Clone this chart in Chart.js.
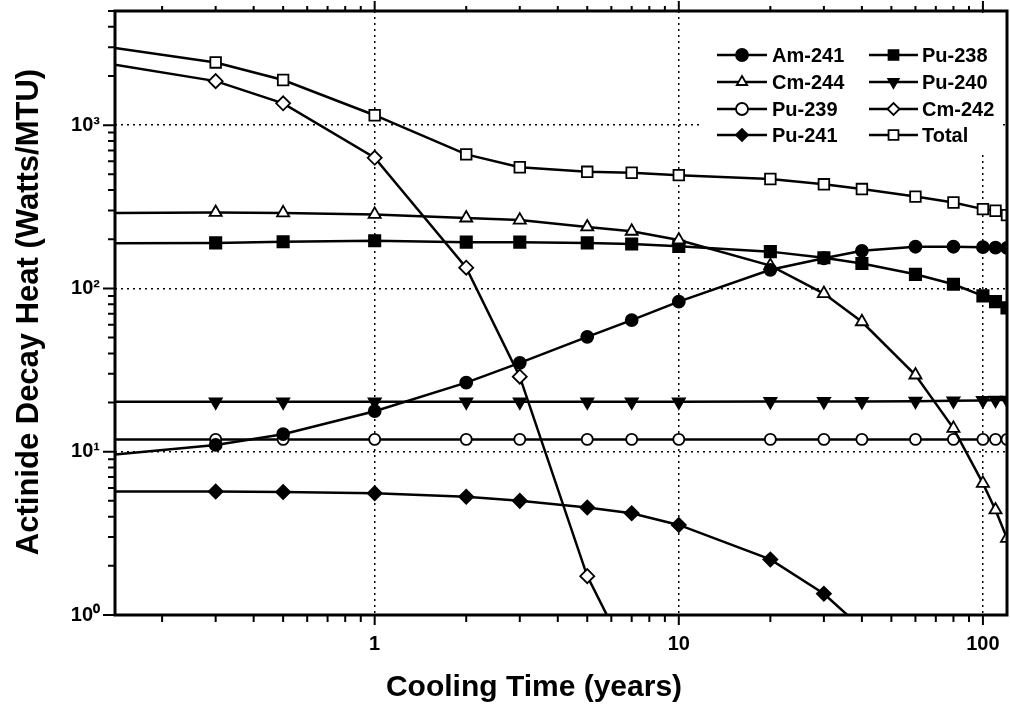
<!DOCTYPE html>
<html>
<head>
<meta charset="utf-8">
<script src="https://cdn.jsdelivr.net/npm/chart.js@4/dist/chart.umd.min.js"></script>
<style>
   html, body { margin: 0; padding: 0; background: #fff; }
   #graphique { display: block; }
</style>
</head>
<body>
<canvas id="graphique" width="1010" height="720"></canvas>
<script>
// Temps de refroidissement (années) - le premier point est le bord gauche du graphique
const annees = [0.14, 0.3, 0.5, 1, 2, 3, 5, 7, 10, 20, 30, 40, 60, 80, 100, 110, 120];

// Puissance résiduelle (Watts/MTU)
const am241 = [9.6, 11.0, 12.8, 17.7, 26.5, 35, 50.5, 64, 83, 130, 153, 170, 180, 180, 179, 178, 177];
const cm244 = [290, 292, 290, 284, 270, 262, 238, 224, 198, 138, 93, 62.5, 29.5, 13.9, 6.4, 4.4, 2.95];
const pu239 = [11.9, 11.9, 11.9, 11.9, 11.9, 11.9, 11.9, 11.9, 11.9, 11.9, 11.9, 11.9, 11.9, 11.9, 11.9, 11.9, 11.9];
const pu241 = [5.7, 5.7, 5.66, 5.56, 5.3, 5.0, 4.55, 4.2, 3.56, 2.19, 1.35, 0.83, null, null, null, null, null];
const pu238 = [189, 190, 193, 196, 192, 192, 190, 187, 181, 168, 154, 142, 122, 106, 90, 83, 76];
const pu240 = [20.2, 20.2, 20.2, 20.2, 20.2, 20.2, 20.2, 20.2, 20.2, 20.3, 20.3, 20.3, 20.4, 20.5, 20.6, 20.7, 20.7];
const cm242 = [2340, 1860, 1360, 631, 134, 28.8, 1.73, 0.5, null, null, null, null, null, null, null, null, null];
const total = [2970, 2420, 1890, 1150, 662, 552, 518, 511, 494, 468, 434, 406, 365, 336, 306, 299, 281];

// Graduations
const xTicks = [0.2, 0.3, 0.4, 0.5, 0.6, 0.7, 0.8, 0.9, 1, 2, 3, 4, 5, 6, 7, 8, 9, 10,
   20, 30, 40, 50, 60, 70, 80, 90, 100];
const yTicks = [1, 2, 3, 4, 5, 6, 7, 8, 9, 10, 20, 30, 40, 50, 60, 70, 80, 90,
   100, 200, 300, 400, 500, 600, 700, 800, 900, 1000, 2000, 3000, 4000, 5000];
const exposants = ['\u2070', '\u00b9', '\u00b2', '\u00b3'];

const POLICE = "'Liberation Sans', Arial, Helvetica, sans-serif";

function estMajeur(v) {
   const l = Math.log10(v);
   return Math.abs(l - Math.round(l)) < 1e-9;
}

function serie(label, valeurs, style, rempli, rayon, rotation) {
   return {
      label: label,
      data: annees.map((t, i) => ({ x: t, y: valeurs[i] })),
      borderColor: '#000',
      borderWidth: 2.5,
      backgroundColor: rempli ? '#000' : '#fff',
      pointBackgroundColor: rempli ? '#000' : '#fff',
      pointBorderColor: '#000',
      pointBorderWidth: 1.8,
      pointStyle: style,
      pointRotation: rotation || 0,
      pointRadius: ctx => ctx.dataIndex === 0 ? 0 : rayon, // pas de marqueur au bord gauche
      tension: 0,
      fill: false,
      spanGaps: false
   };
}

// pas de marge ajoutée par les étiquettes : la zone du graphique reste fixe
function sansMarge(scale) {
   scale.paddingLeft = 0;
   scale.paddingRight = 0;
   scale.paddingTop = 0;
   scale.paddingBottom = 0;
}

// Légende dans le graphique, 2 colonnes
const legendeInterne = {
   id: 'legendeInterne',
   afterDatasetsDraw(chart) {
      const ctx = chart.ctx;
      ctx.save();
      ctx.fillStyle = '#fff';
      ctx.fillRect(703, 14, 300, 139);
      const colonnes = [{ x1: 717, x2: 767, texte: 772 }, { x1: 869, x2: 918, texte: 922 }];
      const lignes = [55, 82, 109, 135];
      chart.data.datasets.forEach((ds, i) => {
         const col = colonnes[Math.floor(i / 4)];
         const y = lignes[i % 4];
         ctx.strokeStyle = '#000';
         ctx.lineWidth = 2.5;
         ctx.beginPath();
         ctx.moveTo(col.x1, y);
         ctx.lineTo(col.x2, y);
         ctx.stroke();
         ctx.fillStyle = ds.pointBackgroundColor;
         ctx.lineWidth = 1.8;
         Chart.helpers.drawPoint(ctx, {
            pointStyle: ds.pointStyle,
            rotation: ds.pointRotation,
            radius: ds.legendRadius,
            borderWidth: 1.8
         }, (col.x1 + col.x2) / 2, y);
         ctx.fillStyle = '#000';
         ctx.font = 'bold 20px ' + POLICE;
         ctx.textAlign = 'left';
         ctx.textBaseline = 'middle';
         ctx.fillText(ds.label, col.texte, y + 1);
      });
      ctx.restore();
   }
};

// Cadre, petites et grandes graduations, titres des axes
const cadre = {
   id: 'cadre',
   afterDraw(chart) {
      const { ctx, chartArea: a, scales: { x, y } } = chart;
      ctx.save();
      ctx.strokeStyle = '#000';
      ctx.lineWidth = 2;
      ctx.beginPath();
      xTicks.forEach(v => {
         const px = x.getPixelForValue(v);
         const maj = estMajeur(v);
         ctx.moveTo(px, a.bottom);
         ctx.lineTo(px, a.bottom + (maj ? 10 : 7));
         ctx.moveTo(px, a.top);
         ctx.lineTo(px, a.top - (maj ? 10 : 5));
      });
      yTicks.forEach(v => {
         const py = y.getPixelForValue(v);
         ctx.moveTo(a.left, py);
         ctx.lineTo(a.left - (estMajeur(v) ? 12 : 7), py);
      });
      ctx.stroke();
      ctx.lineWidth = 3;
      ctx.strokeRect(a.left, a.top, a.right - a.left, a.bottom - a.top);

      ctx.fillStyle = '#000';
      ctx.textAlign = 'center';
      ctx.textBaseline = 'middle';
      ctx.font = 'bold 30px ' + POLICE;
      ctx.fillText('Cooling Time (years)', 534, 688);
      ctx.translate(29, 312);
      ctx.rotate(-Math.PI / 2);
      ctx.font = 'bold 31px ' + POLICE;
      ctx.fillText('Actinide Decay Heat (Watts/MTU)', 0, 0);
      ctx.restore();
   }
};

const jeux = [
   serie('Am-241', am241, 'circle', true, 6),
   serie('Cm-244', cm244, 'triangle', false, 7),
   serie('Pu-239', pu239, 'circle', false, 5.5),
   serie('Pu-241', pu241, 'rectRot', true, 7),
   serie('Pu-238', pu238, 'rect', true, 8),
   serie('Pu-240', pu240, 'triangle', true, 7, 180),
   serie('Cm-242', cm242, 'rectRot', false, 7),
   serie('Total', total, 'rect', false, 7.5)
];
jeux.forEach(ds => { ds.legendRadius = ds.pointStyle === 'rect' ? 7 : 6; });

new Chart(document.getElementById('graphique'), {
   type: 'line',
   data: { datasets: jeux },
   options: {
      responsive: false,
      animation: false,
      layout: { autoPadding: false, padding: { top: 11, right: 3, left: 0, bottom: 0 } },
      plugins: {
         legend: { display: false },
         tooltip: { enabled: false }
      },
      scales: {
         x: {
            type: 'logarithmic',
            min: 0.14,
            max: 120,
            afterBuildTicks: scale => { scale.ticks = xTicks.map(v => ({ value: v })); },
            afterFit: scale => { scale.height = 105; sansMarge(scale); },
            border: { display: false, dash: [2, 4] },
            grid: {
               drawTicks: false,
               lineWidth: 1.5,
               color: c => (c.tick && estMajeur(c.tick.value)) ? '#000' : 'rgba(0,0,0,0)'
            },
            ticks: {
               autoSkip: false,
               maxRotation: 0,
               padding: 17,
               color: '#000',
               font: { family: POLICE, size: 20, weight: 'bold' },
               callback: v => estMajeur(v) ? String(Math.round(v)) : null
            }
         },
         y: {
            type: 'logarithmic',
            min: 1,
            max: 5000,
            afterBuildTicks: scale => { scale.ticks = yTicks.map(v => ({ value: v })); },
            afterFit: scale => { scale.width = 115; sansMarge(scale); },
            border: { display: false, dash: [2, 4] },
            grid: {
               drawTicks: false,
               lineWidth: 1.5,
               color: c => (c.tick && estMajeur(c.tick.value)) ? '#000' : 'rgba(0,0,0,0)'
            },
            ticks: {
               autoSkip: false,
               padding: 15,
               color: '#000',
               font: { family: POLICE, size: 20, weight: 'bold' },
               callback: v => estMajeur(v) ? '10' + exposants[Math.round(Math.log10(v))] : null
            }
         }
      }
   },
   plugins: [legendeInterne, cadre]
});
</script>
</body>
</html>
